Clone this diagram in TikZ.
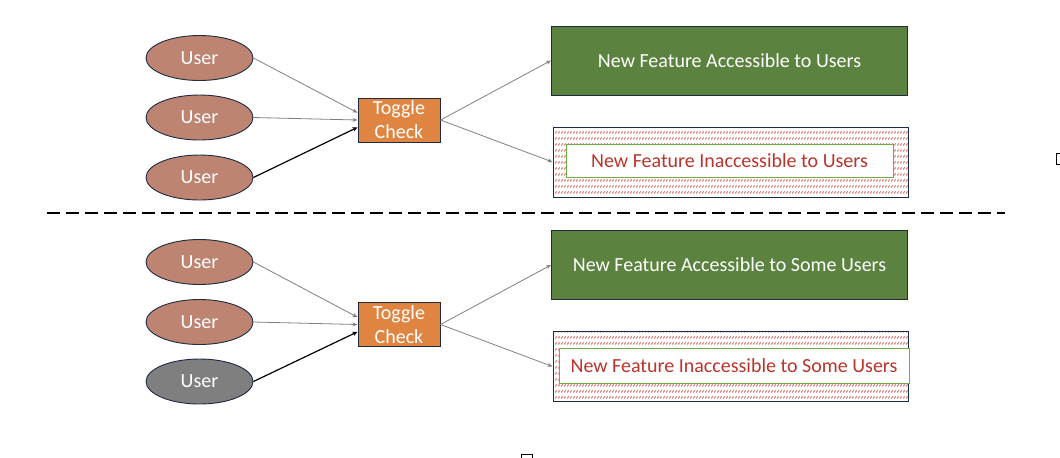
\documentclass[tikz,border=0pt]{standalone}
\usepackage{fontspec}
\setmainfont{Carlito}
\usepackage{xcolor}
\usepackage{tikz}
\usetikzlibrary{arrows.meta}
\usetikzlibrary{shapes.geometric}
\usetikzlibrary{patterns}
\definecolor{CU}{HTML}{BC8471}
\definecolor{CG}{HTML}{5B823E}
\definecolor{CO}{HTML}{DF8541}
\definecolor{CN}{HTML}{1F2A44}
\definecolor{CR}{HTML}{B8352B}
\definecolor{CH}{HTML}{D9574D}
\definecolor{CL}{HTML}{70AD47}
\definecolor{CK}{HTML}{7F7F7F}
\pgfdeclarepatternformonly{slashrows}{\pgfqpoint{0pt}{0pt}}{\pgfqpoint{1.5pt}{2.85pt}}{\pgfqpoint{1.5pt}{2.85pt}}{
\pgfsetlinewidth{0.5pt}
\pgfpathmoveto{\pgfqpoint{0.3pt}{0.8pt}}
\pgfpathlineto{\pgfqpoint{1.0pt}{1.9pt}}
\pgfusepath{stroke}}

\begin{document}
\begin{tikzpicture}[x=0.5pt,y=-0.5pt,
every node/.style={font=\fontsize{10}{12}\selectfont},
user/.style={ellipse,draw=CN,line width=0.45pt,fill=CU,text=white,minimum width=53.5pt,minimum height=22.5pt,inner sep=0pt},
toggle/.style={rectangle,draw=CN,line width=0.5pt,fill=CO,text=white,align=center,minimum width=41pt,minimum height=22pt,inner sep=0pt},
feaon/.style={rectangle,draw=CN,line width=0.5pt,fill=CG,text=white,minimum width=178pt,minimum height=34.5pt},
feaoff/.style={rectangle,draw=CN,line width=0.5pt,pattern=slashrows,pattern color=CH,minimum width=177.5pt,minimum height=35pt},
offtxt/.style={rectangle,draw=CL,line width=0.5pt,fill=white,text=CR,inner sep=0pt},
link/.style={-{Stealth[length=2.5pt,width=2pt]},draw=CK,line width=0.4pt},
darklink/.style={-{Stealth[length=2.5pt,width=2.2pt]},draw=black,line width=0.6pt}]
\useasboundingbox (0,0) rectangle (1060,457);
\def \ux {199.5}
\def \tx {399}
\def \fx {729.5}

% upper half
\node[user] (uA1) at (\ux,58) {User};
\node[user] (uA2) at (\ux,117.5) {User};
\node[user] (uA3) at (\ux,177.5) {User};
\node[toggle] (tgA) at (\tx,120) {Toggle\\Check};
\node[feaon] (onA) at (\fx,60.5) {New Feature Accessible to Users};
\node[feaoff] (offA) at (730.5,162) {};
\node[offtxt,minimum width=163.5pt,minimum height=16.5pt] (txA) at (\fx,160.5) {New Feature Inaccessible to Users};
\draw[link] (uA1.east) -- (tgA.170);
\draw[link] (uA2.east) -- (tgA.west);
\draw[darklink] (uA3.east) -- (tgA.190);
\draw[link] (tgA.east) -- (onA.west);
\draw[link] (tgA.east) -- (offA.west);

\draw[line width=1.3pt,dash pattern=on 6.5pt off 3pt] (47,213) -- (1005,213);

% lower half
\node[user] (uB1) at (\ux,262) {User};
\node[user] (uB2) at (\ux,322) {User};
\node[user,fill=CK] (uB3) at (\ux,381.5) {User};
\node[toggle] (tgB) at (\tx,324.5) {Toggle\\Check};
\node[feaon] (onB) at (\fx,265) {New Feature Accessible to Some Users};
\node[feaoff] (offB) at (730.5,366.5) {};
\node[offtxt,minimum width=175pt,minimum height=17.5pt] (txB) at (734,365.5) {New Feature Inaccessible to Some Users};
\draw[link] (uB1.east) -- (tgB.170);
\draw[link] (uB2.east) -- (tgB.west);
\draw[darklink] (uB3.east) -- (tgB.190);
\draw[link] (tgB.east) -- (onB.west);
\draw[link] (tgB.east) -- (offB.west);

\draw[line width=0.5pt] (1056.5,153) rectangle (1062,164);
\draw[line width=0.5pt] (521,454.5) rectangle (532,462);
\end{tikzpicture}
\end{document}
